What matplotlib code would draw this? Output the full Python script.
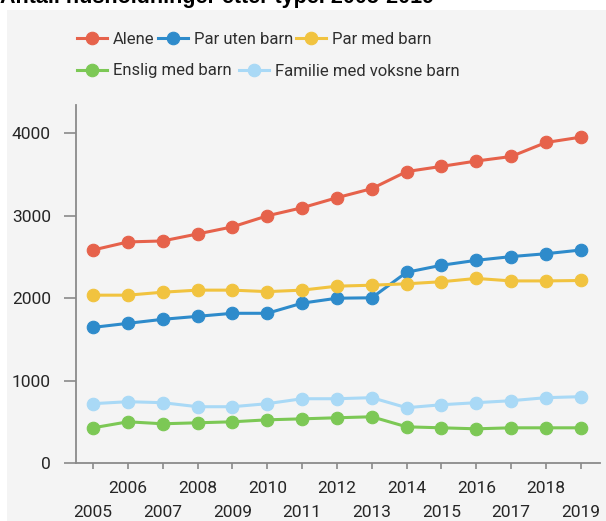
import matplotlib
matplotlib.use("Agg")
import matplotlib.pyplot as plt
from matplotlib.patches import Rectangle
from matplotlib.ticker import FixedLocator

plt.rcParams['font.family'] = ['Roboto', 'DejaVu Sans']

title = "Antall husholdninger etter type. 2005-2019"

years = list(range(2005, 2020))

alene = [2585, 2683, 2695, 2780, 2866, 3000, 3098, 3220, 3330, 3537,
         3600, 3665, 3720, 3890, 3955]
par_uten_barn = [1646, 1695, 1744, 1780, 1817, 1817, 1940, 2000, 2005, 2315,
                 2400, 2460, 2505, 2540, 2585]
par_med_barn = [2037, 2037, 2073, 2098, 2098, 2080, 2098, 2146, 2158, 2175,
                2200, 2240, 2210, 2210, 2215]
enslig_med_barn = [427, 500, 476, 488, 500, 524, 536, 549, 561, 439,
                   427, 415, 427, 427, 427]
familie_voksne_barn = [720, 744, 732, 683, 683, 720, 780, 780, 793, 671,
                       707, 732, 756, 793, 805]

series = [
    ("Alene", alene, "#e6624b"),
    ("Par uten barn", par_uten_barn, "#2e8bcb"),
    ("Par med barn", par_med_barn, "#f1c33f"),
    ("Enslig med barn", enslig_med_barn, "#7cc855"),
    ("Familie med voksne barn", familie_voksne_barn, "#a9d9f6"),
]

W, H = 606, 521
fig = plt.figure(figsize=(W / 100, H / 100), dpi=100)
fig.patch.set_facecolor("white")

# light grey panel behind the chart
fig.add_artist(Rectangle((7 / W, 0), 1 - 7 / W, 1 - 10 / H,
                         transform=fig.transFigure, facecolor="#f4f4f4",
                         edgecolor="none", zorder=0))

fig.text(0.0, 1 - 3 / H, title, fontsize=15.5, fontweight="bold",
         family=["Liberation Sans", "DejaVu Sans"], color="black",
         ha="left", va="baseline")

ax = fig.add_axes([76 / W, 1 - 463 / H, (600 - 76) / W, (463 - 105) / H])
ax.set_facecolor("none")

handles = []
for name, vals, col in series:
    h, = ax.plot(years, vals, color=col, lw=2.2, marker="o", ms=9,
                 markerfacecolor=col, markeredgecolor=col,
                 markeredgewidth=0.8, label=name, clip_on=False)
    handles.append(h)

ax.set_xlim(2004.51, 2019.55)
ax.set_ylim(0, 4345)

for s in ("top", "right"):
    ax.spines[s].set_visible(False)
for s in ("left", "bottom"):
    ax.spines[s].set_color("#8a8a8a")
    ax.spines[s].set_linewidth(1.3)

tick_color = "#262626"
ax.set_yticks([0, 1000, 2000, 3000, 4000])
ax.tick_params(axis="y", length=9, width=1.2, color="#8a8a8a", pad=9,
               labelsize=12.5, labelcolor=tick_color)

odd = [y for y in years if y % 2 == 1]
even = [y for y in years if y % 2 == 0]
ax.xaxis.set_major_locator(FixedLocator(odd))
ax.xaxis.set_minor_locator(FixedLocator(even))
ax.set_xticklabels([str(y) for y in odd])
ax.set_xticklabels([str(y) for y in even], minor=True)
ax.tick_params(axis="x", which="major", length=4, width=1.2, color="#8a8a8a",
               pad=26, labelsize=12.5, labelcolor=tick_color)
ax.tick_params(axis="x", which="minor", length=4, width=1.2, color="#8a8a8a",
               pad=9, labelsize=12.5, labelcolor=tick_color)

common = dict(frameon=False, fontsize=12, handlelength=1.8,
              handletextpad=0.35, borderpad=0, borderaxespad=0,
              labelcolor="#2e2e2e")
leg1 = fig.legend(handles=handles[:3], ncol=3, loc="center left",
                  bbox_to_anchor=(77 / W, 1 - 39 / H), columnspacing=0.2,
                  **common)
leg2 = fig.legend(handles=handles[3:], ncol=2, loc="center left",
                  bbox_to_anchor=(77 / W, 1 - 71 / H), columnspacing=0.45,
                  **common)

fig.savefig("out.png", dpi=100, facecolor="white")
